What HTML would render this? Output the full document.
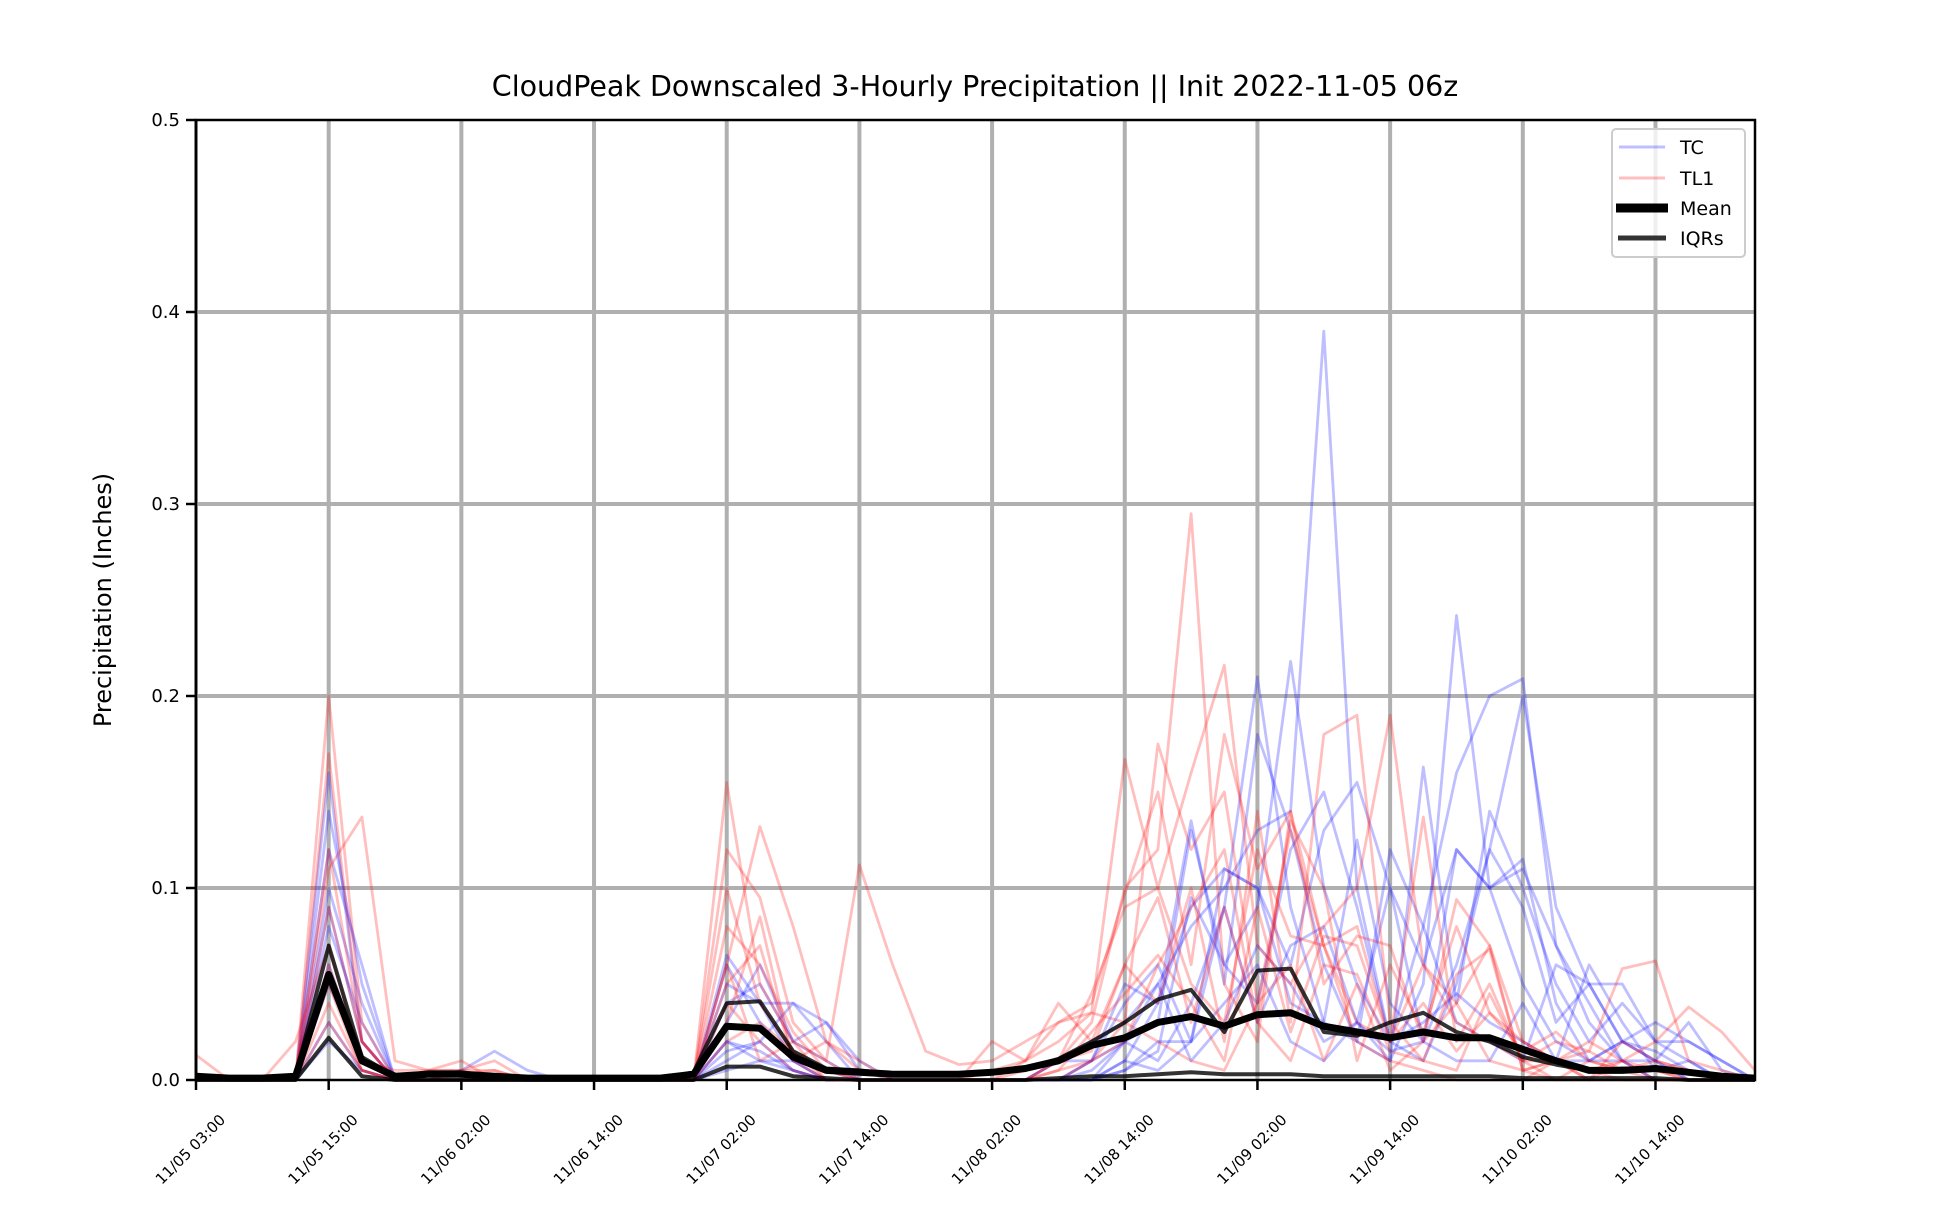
<!DOCTYPE html>
<html><head><meta charset="utf-8"><style>
html,body{margin:0;padding:0;background:#fff;}
svg text{font-family:"DejaVu Sans","Liberation Sans",sans-serif;}
</style></head><body>
<svg id="chart" width="1950" height="1200" xmlns="http://www.w3.org/2000/svg">
<rect width="1950" height="1200" fill="#fff"/>
<text x="975" y="96" font-size="28.5" text-anchor="middle">CloudPeak Downscaled 3-Hourly Precipitation || Init 2022-11-05 06z</text>
<text transform="translate(111,600) rotate(-90)" font-size="24" text-anchor="middle">Precipitation (Inches)</text>
<g id="grid"></g><g id="series"></g><g id="axes"></g>
<g>
<rect x="1612" y="129" width="133" height="128" rx="4" fill="#fff" fill-opacity="0.8" stroke="#ccc" stroke-width="2"/>
<line x1="1619" y1="147" x2="1665" y2="147" stroke="rgba(0,0,255,0.25)" stroke-width="3"/>
<text x="1680" y="154" font-size="19">TC</text>
<line x1="1619" y1="178" x2="1665" y2="178" stroke="rgba(255,0,0,0.25)" stroke-width="3"/>
<text x="1680" y="185" font-size="19">TL1</text>
<line x1="1616" y1="208" x2="1668" y2="208" stroke="#000" stroke-width="9"/>
<text x="1680" y="215" font-size="19">Mean</text>
<line x1="1618" y1="238" x2="1666" y2="238" stroke="#333" stroke-width="5"/>
<text x="1680" y="245" font-size="19">IQRs</text>
</g>
</svg>
<script>
const xTickLabels=["11/05 03:00","11/05 15:00","11/06 02:00","11/06 14:00","11/07 02:00","11/07 14:00","11/08 02:00","11/08 14:00","11/09 02:00","11/09 14:00","11/10 02:00","11/10 14:00"];
const xTickIdx=[0,4,8,12,16,20,24,28,32,36,40,44];
const yTicks=[0,0.1,0.2,0.3,0.4,0.5];
const tcMembers=[
[0,0,0,0,.16,.02,0,0, 0,0,0,0,0,0,0,0, .06,.03,.01,0,0,0,0,0, 0,0,.01,.02,.03,.05,.08,.1, .13,.14,.39,.1,.02,.01,.05,.12, .2,.09,.05,.02,.01,0,0,0],
[0,0,0,0,.12,.06,0,0, 0,0,0,0,0,0,0,0, .04,.05,.02,.01,0,0,0,0, 0,0,0,.01,.04,.06,.02,.09, .21,.09,.03,.02,.01,.05,.242,.1, .05,.02,.01,.01,0,0,0,0],
[0,0,0,0,.09,.02,0,0, 0,0,0,0,0,0,0,0, .03,.06,.02,.03,.01,0,0,0, 0,0,.01,.01,.02,.03,.13,.06, .09,.218,.1,.05,.02,.08,.16,.2, .209,.07,.04,.01,0,0,0,0],
[0,0,0,0,.06,.01,0,0, 0,0,0,0,0,0,0,0, .02,.01,.01,0,0,0,0,0, 0,0,0,0,.01,.04,.09,.11, .1,.06,.13,.155,.1,.06,.12,.1, .11,.07,.03,.01,.01,0,0,0],
[0,0,0,0,.03,.005,0,0, 0,0,0,0,0,0,0,0, .01,.02,.005,0,0,0,0,0, 0,0,0,.005,.02,.01,.04,.09, .03,.07,.08,.03,.01,.163,.04,.14, .1,.05,.02,.04,.02,.01,0,0],
[0,0,0,0,.1,.04,0,0, .005,.015,.005,0,0,0,0,0, .05,.04,.04,.03,.005,0,0,0, 0,0,0,.01,.05,.04,.135,.05, .18,.13,.06,.02,.12,.08,.03,.02, .01,.06,.05,.02,.03,.02,.01,0],
[0,0,0,0,.02,.005,0,0, 0,0,0,0,0,0,0,0, .005,.01,.005,0,0,0,0,0, 0,0,0,0,.005,.02,.02,.04, .06,.02,.01,.03,.1,.02,.06,.12, .09,.03,.05,.05,.02,.02,.01,0],
[0,0,0,0,.05,.01,0,0, 0,0,0,0,0,0,0,0, .02,.015,.005,0,0,0,0,0, 0,0,0,0,.01,.005,.02,.11, .1,.04,.03,.125,.04,.02,.12,.1, .115,.04,.01,.02,.01,.03,.005,0],
[0,0,0,0,.14,.05,0,0, 0,0,0,0,0,0,0,0, .065,.04,.01,.005,0,0,0,0, 0,0,0,0,.005,.015,.095,.06, .04,.12,.15,.09,.02,.03,.045,.03, .02,.01,.06,.03,.005,.01,0,0],
[0,0,0,0,.08,.03,0,0, 0,0,0,0,0,0,0,0, .015,.02,.04,.02,0,0,0,0, 0,0,0,0,.02,.05,.01,.03, .07,.05,.02,.03,.015,.02,.01,.01, .04,.01,.01,.02,.015,.005,0,0]
];
const tl1Members=[
[.013,0,0,0,.2,.03,0,0, 0,0,0,0,0,0,0,0, .155,.05,.02,0,0,0,0,0, 0,0,.01,.03,.1,.12,.295,.05, .02,.14,.07,.02,.01,.005,0,0, 0,.01,0,.02,.01,.005,0,0],
[0,0,0,0,.11,.137,.01,.005, .005,.01,0,0,0,0,0,0, .06,.132,.08,.02,.005,0,0,0, .005,.01,.02,.035,.167,.1,.16,.216, .07,.05,.08,.1,.19,.06,.03,.02, .01,.01,0,.01,.005,0,0,0],
[0,0,0,.02,.07,.01,.005,.005, .005,.005,0,0,0,0,0,0, .06,.01,.02,.01,.112,.06,.015,.008, .01,.02,.03,.035,.03,.175,.12,.15, .04,.13,.07,.03,.02,.137,.02,.05, .01,.02,.015,.058,.062,.01,.005,0],
[0,0,0,0,.09,.02,0,.005, .01,0,0,0,0,0,0,0, .12,.095,.03,.01,0,0,0,0, 0,.01,.03,.04,.097,.15,.06,.18, .11,.14,.05,.075,.07,.02,.094,.07, .02,.01,.02,.01,.02,.038,.025,.005],
[0,0,0,0,.05,.005,0,0, 0,0,0,0,0,0,0,0, .08,.06,.025,.005,0,0,0,0, 0,.005,.01,.045,.09,.1,.05,.03, .12,.075,.07,.08,.02,.06,.04,.07, .005,0,.01,.005,.005,0,0,0],
[0,0,0,0,.03,.005,0,0, .005,0,0,0,0,0,0,0, .03,.085,.01,.02,.01,0,0,0, .02,.01,.04,.02,.06,.04,.1,.02, .14,.03,.18,.19,.03,.01,.055,.068, .005,.01,.005,.01,0,0,0,0],
[0,0,0,0,.17,.02,0,0, 0,0,0,0,0,0,0,0, .1,.04,.015,.005,0,0,0,0, 0,0,.01,.015,.06,.095,.03,.09, .03,.135,.1,.01,.06,.025,.08,.035, .015,.025,.01,.005,0,0,0,0],
[0,0,0,0,.04,.005,0,0, 0,0,0,0,0,0,0,0, .05,.07,.01,0,0,0,0,0, 0,0,.005,.025,.045,.065,.04,.01, .09,.025,.075,.07,.02,.04,.015,.035, .02,.01,.015,.005,.01,.005,0,0],
[0,0,0,0,.12,.02,0,0, 0,0,0,0,0,0,0,0, .02,.03,.015,0,0,0,0,0, 0,0,0,.01,.02,.06,.09,.12, .03,.01,.06,.055,.015,.01,.005,.045, .01,0,0,0,0,0,0,0],
[0,0,0,0,.06,.01,0,0, .003,.005,0,0,0,0,0,0, .04,.02,.005,0,0,0,0,0, 0,0,.005,.01,.03,.02,.01,.005, .04,.06,.01,.05,.005,.02,.04,.01, .005,.01,.005,0,0,0,0,0]
];
const meanSeries=[.002,.001,.001,.002,.055,.01,.002,.003, .003,.002,.001,.001,.001,.001,.001,.003, .028,.027,.012,.005,.004,.003,.003,.003, .004,.006,.01,.018,.022,.03,.033,.028, .034,.035,.028,.025,.022,.025,.022,.022, .016,.01,.005,.005,.006,.004,.002,.001];
const iqrUpper=[.002,.001,.001,.002,.07,.012,.002,.004, .004,.002,.001,.001,.001,.001,.001,.004, .04,.041,.015,.006,.005,.003,.003,.003, .004,.006,.011,.02,.03,.042,.047,.025, .057,.058,.025,.023,.03,.035,.025,.02, .012,.008,.005,.006,.006,.004,.002,.001];
const iqrLower=[0,0,0,0,.022,.002,0,0, 0,0,0,0,0,0,0,0, .007,.007,.002,.001,0,0,0,0, 0,0,.001,.002,.002,.003,.004,.003, .003,.003,.002,.002,.002,.002,.002,.002, .001,.001,.001,.001,.001,0,0,0];

const X0=196,X1=1755,Y0=1080,Y1=120,NMAX=47,YMAX=0.5;
function xs(i){return X0+(X1-X0)*i/NMAX;}
function ys(v){return Y0-(Y0-Y1)*v/YMAX;}
const NS="http://www.w3.org/2000/svg";
function mk(tag,attrs,parent){const e=document.createElementNS(NS,tag);for(const k in attrs)e.setAttribute(k,attrs[k]);parent.appendChild(e);return e;}
const grid=document.getElementById('grid'),series=document.getElementById('series'),axes=document.getElementById('axes');
xTickIdx.forEach((ix,k)=>{
  const x=xs(ix);
  const g=mk('line',{x1:x,y1:Y1,x2:x,y2:Y0,stroke:'#b0b0b0','stroke-width':4},grid);
  
  
  const t=mk('line',{x1:x,y1:Y0,x2:x,y2:Y0+10,stroke:'#000','stroke-width':2.5},axes);
  
  
  const lb=mk('text',{x:0,y:0,'font-size':15,'text-anchor':'middle',transform:`translate(${x-2},${1153}) rotate(-45)`},axes);
  lb.textContent=xTickLabels[k];
  
  
});
yTicks.forEach(v=>{
  const y=ys(v);
  if(v>0&&v<YMAX){const g=mk('line',{x1:X0,y1:y,x2:X1,y2:y,stroke:'#b0b0b0','stroke-width':4},grid);
  
  }
  const t=mk('line',{x1:X0-10,y1:y,x2:X0,y2:y,stroke:'#000','stroke-width':2.5},axes);
  
  
  const lb=mk('text',{x:X0-16,y:y+6,'font-size':18,'text-anchor':'end'},axes);
  lb.textContent=v.toFixed(1);
  
  
});
function pts(arr){return arr.map((v,i)=>xs(i).toFixed(1)+','+ys(v).toFixed(1)).join(' ');}
tcMembers.forEach(a=>{
  const p=mk('polyline',{points:pts(a),fill:'none',stroke:'rgba(0,0,255,0.25)','stroke-width':2.8,'stroke-linejoin':'round'},series);
  
  
});
tl1Members.forEach(a=>{
  const p=mk('polyline',{points:pts(a),fill:'none',stroke:'rgba(255,0,0,0.25)','stroke-width':2.8,'stroke-linejoin':'round'},series);
  
  
});
[iqrUpper,iqrLower].forEach(a=>{
  const p=mk('polyline',{points:pts(a),fill:'none',stroke:'rgba(0,0,0,0.8)','stroke-width':4,'stroke-linejoin':'round'},series);
  
  
});
const m=mk('polyline',{points:pts(meanSeries),fill:'none',stroke:'#000','stroke-width':7,'stroke-linejoin':'round'},series);


const frame=mk('rect',{x:X0,y:Y1,width:X1-X0,height:Y0-Y1,fill:'none',stroke:'#000','stroke-width':2.5},axes);


</script>
</body></html>
